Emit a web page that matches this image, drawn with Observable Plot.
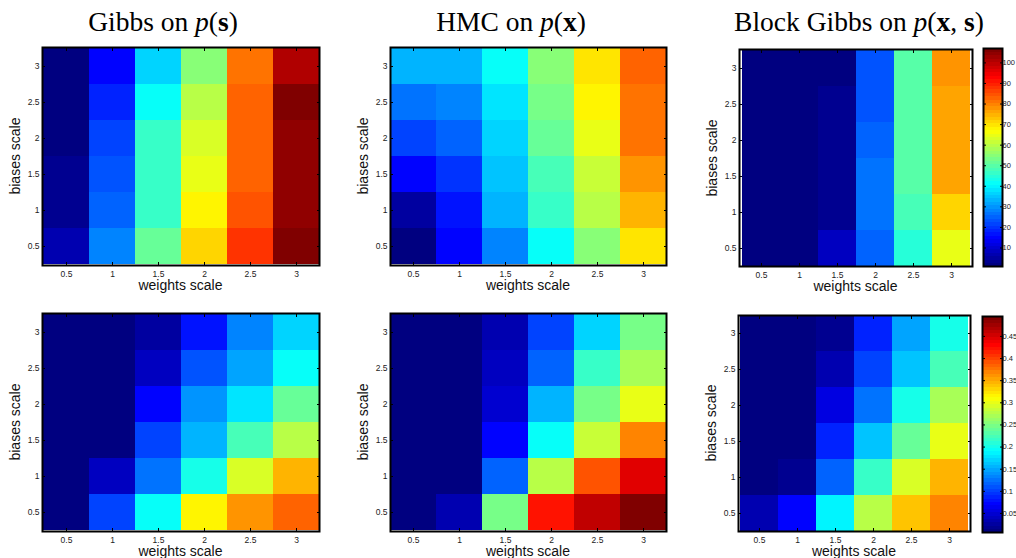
<!DOCTYPE html>
<html><head><meta charset="utf-8">
<script src="https://cdn.jsdelivr.net/npm/d3@7"></script>
<script src="https://cdn.jsdelivr.net/npm/@observablehq/plot@0.6"></script>
<style>
body{margin:0;background:#fff;}
#fig{position:relative;width:1016px;height:558px;overflow:hidden;font-family:"Liberation Sans",Arial,sans-serif;}
.panel{position:absolute;}
.title{position:absolute;font-family:"Liberation Serif","DejaVu Serif",serif;font-size:27.5px;line-height:1;white-space:nowrap;transform:translateX(-50%);color:#000;}
.xl{position:absolute;font-size:14px;line-height:1;transform:translateX(-50%);white-space:nowrap;color:#111;}
.yl{position:absolute;font-size:14px;line-height:1;transform:translate(-50%,-50%) rotate(-90deg);white-space:nowrap;color:#111;}
</style></head><body><div id="fig"></div><script>
// x categories (weights scale) and y categories (biases scale)
const weights = [0.5, 1, 1.5, 2, 2.5, 3];
const biasRows = [3, 2.5, 2, 1.5, 1, 0.5]; // matrix rows, top to bottom

// Top row (values, colour range ~1..107)
const gibbsS_top = [
  [1.0, 14.8, 37.0, 55.1, 80.5, 100.4],
  [1.0, 18.0, 40.8, 60.4, 83.2, 105.9],
  [1.0, 22.2, 46.1, 63.5, 83.2, 103.8],
  [3.1, 23.3, 46.1, 65.1, 83.2, 103.8],
  [3.1, 24.9, 46.1, 67.3, 84.7, 103.8],
  [6.3, 27.5, 51.4, 71.0, 88.5, 107.0]
];
const hmcX_top = [
  [34.1, 34.1, 40.8, 54.0, 69.9, 83.2],
  [26.4, 28.6, 37.6, 52.9, 67.3, 81.6],
  [21.1, 24.9, 36.0, 51.4, 65.1, 81.0],
  [15.3, 19.6, 34.9, 48.7, 62.0, 77.9],
  [5.2, 16.9, 32.8, 46.1, 59.3, 73.9],
  [1.0, 14.3, 27.5, 40.8, 54.0, 69.4]
];
const blockXS_top = [
  [1.2, 1.3, 2.6, 23.3, 49.8, 77.9],
  [1.2, 1.3, 3.7, 22.7, 49.8, 75.7],
  [1.2, 1.3, 3.7, 24.9, 49.8, 75.7],
  [1.2, 1.3, 4.2, 26.4, 49.8, 75.7],
  [1.2, 1.3, 4.2, 26.4, 48.7, 71.0],
  [1.2, 1.4, 9.0, 24.9, 44.5, 65.1]
];
// Bottom row (values, colour range ~0.007..0.495)
const gibbsS_bot = [
  [0.007, 0.007, 0.027, 0.080, 0.134, 0.173],
  [0.007, 0.007, 0.044, 0.109, 0.149, 0.197],
  [0.007, 0.007, 0.068, 0.141, 0.178, 0.239],
  [0.007, 0.012, 0.100, 0.158, 0.222, 0.280],
  [0.007, 0.044, 0.124, 0.202, 0.295, 0.343],
  [0.012, 0.100, 0.197, 0.312, 0.361, 0.383]
];
const hmcX_bot = [
  [0.007, 0.007, 0.031, 0.100, 0.173, 0.246],
  [0.007, 0.007, 0.044, 0.117, 0.214, 0.271],
  [0.007, 0.007, 0.051, 0.153, 0.246, 0.297],
  [0.007, 0.007, 0.068, 0.190, 0.288, 0.368],
  [0.007, 0.012, 0.117, 0.280, 0.393, 0.449],
  [0.007, 0.036, 0.246, 0.419, 0.464, 0.495]
];
const blockXS_bot = [
  [0.007, 0.007, 0.019, 0.085, 0.149, 0.202],
  [0.007, 0.007, 0.036, 0.105, 0.166, 0.227],
  [0.007, 0.007, 0.056, 0.124, 0.202, 0.271],
  [0.012, 0.012, 0.085, 0.166, 0.239, 0.300],
  [0.012, 0.019, 0.117, 0.214, 0.295, 0.349],
  [0.031, 0.068, 0.183, 0.275, 0.336, 0.368]
];
const topDomain = [1, 107];
const botDomain = [0.007, 0.495];
const topTicks = [10, 20, 30, 40, 50, 60, 70, 80, 90, 100];
const botTicks = [0.05, 0.1, 0.15, 0.2, 0.25, 0.3, 0.35, 0.4, 0.45];
const titles = [
  'Gibbs on <i>p</i>(<b>s</b>)',
  'HMC on <i>p</i>(<b>x</b>)',
  'Block Gibbs on <i>p</i>(<b>x</b>, <b>s</b>)'
];

// MATLAB-like jet colormap, 64 levels
function jet(t) {
  t = Math.max(0, Math.min(1, t));
  t = Math.min(63, Math.floor(t * 64)) / 63;
  const c = v => Math.round(255 * Math.max(0, Math.min(1, v)));
  return `rgb(${c(1.5 - Math.abs(4 * t - 3))},${c(1.5 - Math.abs(4 * t - 2))},${c(1.5 - Math.abs(4 * t - 1))})`;
}

const fig = document.getElementById("fig");
const ML = 40, MR = 6, MT = 6, MB = 22;
const FS = 8.5;

function heat(matrix, domain, f) {
  const data = [];
  biasRows.forEach((b, i) => weights.forEach((w, j) => data.push({w, b, v: matrix[i][j]})));
  const svg = Plot.plot({
    width: f.w + ML + MR, height: f.h + MT + MB,
    marginLeft: ML, marginRight: MR, marginTop: MT, marginBottom: MB,
    style: {fontFamily: '"Liberation Sans", Arial, sans-serif', color: "#222", background: "transparent"},
    x: {type: "band", domain: weights, padding: 0, label: null},
    y: {type: "band", domain: biasRows, padding: 0, label: null},
    color: {type: "linear", domain, interpolate: (t) => jet(t)},
    marks: [
      Plot.cell(data, {x: "w", y: "b", fill: "v", inset: 0, shapeRendering: "crispEdges"}),
      Plot.axisX({anchor: "bottom", tickSize: -3, tickPadding: 8, fontSize: FS, stroke: "#000", label: null}),
      Plot.axisX({anchor: "top", tickSize: -3, tickFormat: () => "", stroke: "#000", label: null}),
      Plot.axisY({anchor: "left", tickSize: -3, tickPadding: 6, fontSize: FS, stroke: "#000", label: null}),
      Plot.axisY({anchor: "right", tickSize: -3, tickFormat: () => "", stroke: "#000", label: null}),
      Plot.frame({stroke: "#000", strokeWidth: 2})
    ]
  });
  svg.classList.add("panel");
  svg.style.left = (f.x - ML) + "px";
  svg.style.top = (f.y - MT) + "px";
  fig.appendChild(svg);
  const xl = document.createElement("div");
  xl.className = "xl"; xl.textContent = "weights scale";
  xl.style.left = (f.x + f.w / 2) + "px"; xl.style.top = (f.y + f.h + 13) + "px";
  fig.appendChild(xl);
  const yl = document.createElement("div");
  yl.className = "yl"; yl.textContent = "biases scale";
  yl.style.left = (f.x - 27) + "px"; yl.style.top = (f.y + f.h / 2) + "px";
  fig.appendChild(yl);
}

function cbar(domain, ticks, f) {
  const cm = {l: 4, r: 30, t: 6, b: 6};
  const svg = Plot.plot({
    width: f.w + cm.l + cm.r, height: f.h + cm.t + cm.b,
    marginLeft: cm.l, marginRight: cm.r, marginTop: cm.t, marginBottom: cm.b,
    style: {fontFamily: '"Liberation Sans", Arial, sans-serif', color: "#222", background: "transparent", overflow: "visible"},
    x: {domain: [0, 1], axis: null},
    y: {domain, label: null},
    color: {type: "linear", domain, interpolate: (t) => jet(t)},
    marks: [
      Plot.raster({x1: 0, x2: 1, y1: domain[0], y2: domain[1], width: 1, height: 256,
        fill: (x, y) => y, imageRendering: "pixelated"}),
      Plot.axisY({anchor: "right", ticks, tickSize: -3, tickPadding: 3, fontSize: 7.5, stroke: "#000", label: null, tickFormat: (d) => String(d)}),
      Plot.axisY({anchor: "left", ticks, tickSize: -3, tickFormat: () => "", stroke: "#000", label: null}),
      Plot.frame({stroke: "#000", strokeWidth: 2})
    ]
  });
  svg.classList.add("panel");
  svg.style.left = (f.x - cm.l) + "px";
  svg.style.top = (f.y - cm.t) + "px";
  fig.appendChild(svg);
}

// frames (plot areas) in page pixels
heat(gibbsS_top, topDomain, {x: 42, y: 47, w: 277, h: 218});
heat(hmcX_top, topDomain, {x: 390, y: 47, w: 276, h: 218});
heat(blockXS_top, topDomain, {x: 739, y: 49, w: 233, h: 217});
cbar(topDomain, topTicks, {x: 983, y: 48, w: 19, h: 218});
heat(gibbsS_bot, botDomain, {x: 42, y: 313, w: 277, h: 218});
heat(hmcX_bot, botDomain, {x: 390, y: 313, w: 276, h: 218});
heat(blockXS_bot, botDomain, {x: 738, y: 315, w: 232, h: 216});
cbar(botDomain, botTicks, {x: 982, y: 316, w: 20, h: 216});

const tx = [163, 511, 859];
titles.forEach((t, i) => {
  const d = document.createElement("div");
  d.className = "title"; d.innerHTML = t;
  d.style.left = tx[i] + "px"; d.style.top = "8px";
  fig.appendChild(d);
});
</script></body></html>
